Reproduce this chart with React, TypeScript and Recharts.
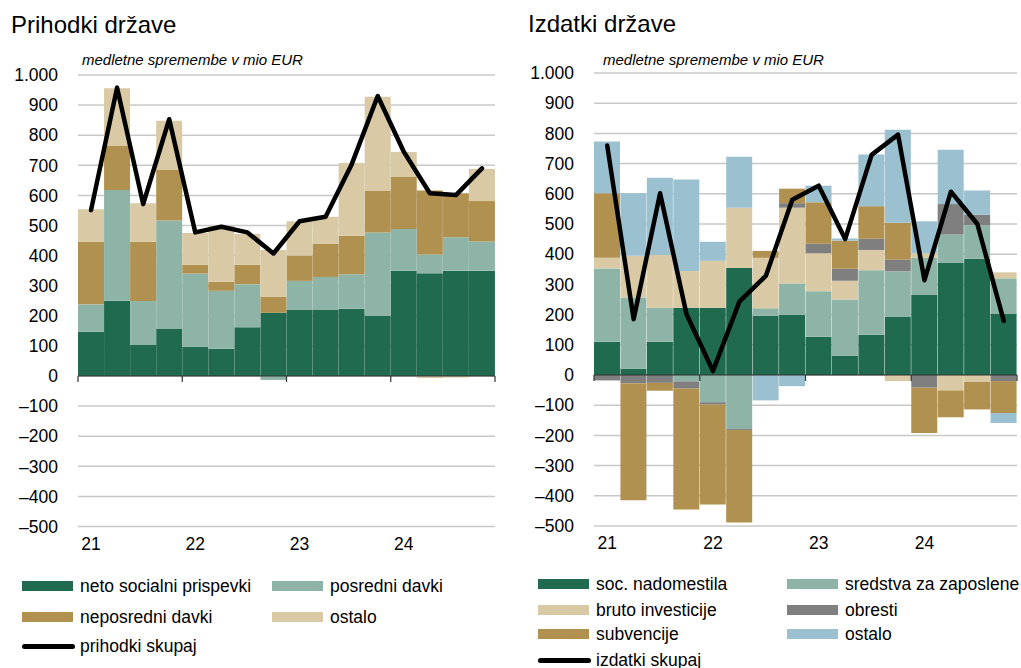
import React from 'react';
import { ComposedChart, Bar, Line, XAxis, YAxis, CartesianGrid, ReferenceLine } from 'recharts';

const quarters = ['21Q1','21Q2','21Q3','21Q4','22Q1','22Q2','22Q3','22Q4','23Q1','23Q2','23Q3','23Q4','24Q1','24Q2','24Q3','24Q4'];
const yearTickQuarters = ['21Q1','22Q1','23Q1','24Q1'];
const yearLabels = ['21','22','23','24'];
const yTicks = [-500,-400,-300,-200,-100,0,100,200,300,400,500,600,700,800,900,1000];

// Prihodki države
const netoSocialniPrispevki = [147,250,103,158,97,91,162,210,221,221,223,199,350,341,350,350];
const posredniDavki = [91,368,146,359,243,192,143,-13,95,108,115,278,138,63,111,97];
const neposredniDavki = [208,146,197,167,30,30,65,54,84,111,128,139,175,212,146,134];
const prihodkiOstalo = [108,192,128,164,105,185,102,155,114,89,242,312,81,-7,-5,107];
const prihodkiSkupaj = [551,958,571,853,477,496,477,407,514,529,703,930,745,607,601,690];

// Izdatki države
const socNadomestila = [110,21,110,223,223,354,196,199,127,64,133,194,265,371,385,202];
const sredstvaZaZaposlene = [243,236,113,-21,-90,-179,25,104,150,186,214,149,124,94,111,118];
const brutoInvesticije = [35,138,174,121,155,200,167,251,126,62,67,-20,14,-51,-23,20];
const obresti = [-18,-27,-26,-24,-8,-3,0,15,32,40,37,39,-42,101,35,-20];
const subvencije = [214,-388,-26,-400,-331,-306,23,48,137,93,108,122,-150,-89,-91,-106];
const izdatkiOstalo = [171,207,256,303,63,169,-84,-37,55,7,171,308,106,180,80,-33];
const izdatkiSkupaj = [760,185,602,201,13,243,328,580,627,450,729,796,314,607,500,179];

const C_GREEN = '#206a50';
const C_TEAL = '#8eb4a7';
const C_BROWN = '#b0914f';
const C_BEIGE = '#d9caa5';
const C_GRAY = '#7f7f7f';
const C_BLUE = '#9bc0cf';

const leftSeries = [
  { key: 'neto', name: 'neto socialni prispevki', color: C_GREEN, values: netoSocialniPrispevki },
  { key: 'posredni', name: 'posredni davki', color: C_TEAL, values: posredniDavki },
  { key: 'neposredni', name: 'neposredni davki', color: C_BROWN, values: neposredniDavki },
  { key: 'ostalo', name: 'ostalo', color: C_BEIGE, values: prihodkiOstalo },
];
const rightSeries = [
  { key: 'soc', name: 'soc. nadomestila', color: C_GREEN, values: socNadomestila },
  { key: 'sredstva', name: 'sredstva za zaposlene', color: C_TEAL, values: sredstvaZaZaposlene },
  { key: 'bruto', name: 'bruto investicije', color: C_BEIGE, values: brutoInvesticije },
  { key: 'obresti', name: 'obresti', color: C_GRAY, values: obresti },
  { key: 'subv', name: 'subvencije', color: C_BROWN, values: subvencije },
  { key: 'ostalo', name: 'ostalo', color: C_BLUE, values: izdatkiOstalo },
];

const buildData = (series: any[], total: number[]) =>
  quarters.map((q, i) => {
    const row: any = { q, total: total[i] };
    series.forEach((s) => { row[s.key] = s.values[i]; });
    return row;
  });

const leftData = buildData(leftSeries, prihodkiSkupaj);
const rightData = buildData(rightSeries, izdatkiSkupaj);

const fmtY = (v: number) => {
  if (v < 0) return '\u2013' + Math.abs(v);
  if (v >= 1000) return '1.' + String(v).slice(-3);
  return String(v);
};
const fmtX = (v: string) => {
  const idx = yearTickQuarters.indexOf(v);
  return idx >= 0 ? yearLabels[idx] : '';
};

const FONT = '"Liberation Sans", Arial, sans-serif';

function Panel({ data, series, yWidth, width, margin }: any) {
  return (
    <ComposedChart width={width} height={668} data={data} margin={margin}
      barCategoryGap={0} barGap={0} stackOffset="sign">
      <CartesianGrid vertical={false} stroke="#c8c8c8" strokeWidth={1.5} />
      <XAxis dataKey="q" interval={0} axisLine={false} tickLine={false} tickSize={0} tickMargin={11}
        height={30} tickFormatter={fmtX} tick={{ fill: '#000', fontSize: 17.5 }} />
      <YAxis domain={[-500, 1000]} ticks={yTicks} interval={0} axisLine={false} tickLine={false}
        tickSize={0} tickMargin={20} width={yWidth} tickFormatter={fmtY}
        tick={{ fill: '#000', fontSize: 17.5 }} />
      {series.map((s: any) => (
        <Bar key={s.key} dataKey={s.key} stackId="s" fill={s.color} isAnimationActive={false} />
      ))}
      <ReferenceLine y={0} stroke="#333" strokeWidth={1.2} />
      {yearTickQuarters.map((q) => (
        <ReferenceLine key={q} segment={[{ x: q, y: 0 }, { x: q, y: -20 }]} position="start"
          stroke="#333" strokeWidth={1.2} ifOverflow="visible" />
      ))}
      <ReferenceLine segment={[{ x: '24Q4', y: 0 }, { x: '24Q4', y: -20 }]} position="end"
        stroke="#333" strokeWidth={1.2} ifOverflow="visible" />
      <Line type="linear" dataKey="total" stroke="#000" strokeWidth={4.5} dot={false}
        strokeLinejoin="round" strokeLinecap="round" isAnimationActive={false} />
    </ComposedChart>
  );
}

function LegendItem({ x, y, color, name, line }: any) {
  return (
    <div style={{ position: 'absolute', left: x, top: y - 12, height: 24, display: 'flex', alignItems: 'center', whiteSpace: 'nowrap' }}>
      {line ? (
        <div style={{ width: 53, height: 5, background: '#000', borderRadius: 3, marginRight: 5 }} />
      ) : (
        <div style={{ width: 51, height: 10, background: color, marginRight: 7 }} />
      )}
      <span style={{ fontSize: 17.5, color: '#000' }}>{name}</span>
    </div>
  );
}

export default function App() {
  const leftCols = [22, 272];
  const leftRows = [586, 617];
  const rightCols = [538, 787];
  const rightRows = [584, 610, 634];
  return (
    <div style={{ position: 'absolute', left: 0, top: 0, width: 1021, height: 668, background: '#fff', fontFamily: FONT, overflow: 'hidden' }}>
      <div style={{ position: 'absolute', left: 11, top: 13, fontSize: 24, lineHeight: '24px', whiteSpace: 'nowrap' }}>Prihodki države</div>
      <div style={{ position: 'absolute', left: 82, top: 52, fontSize: 15, lineHeight: '15px', fontStyle: 'italic', whiteSpace: 'nowrap' }}>medletne spremembe v mio EUR</div>
      <div style={{ position: 'absolute', left: 528, top: 12, fontSize: 24, lineHeight: '24px', whiteSpace: 'nowrap' }}>Izdatki države</div>
      <div style={{ position: 'absolute', left: 603, top: 52, fontSize: 15, lineHeight: '15px', fontStyle: 'italic', whiteSpace: 'nowrap' }}>medletne spremembe v mio EUR</div>

      <div style={{ position: 'absolute', left: 0, top: 0 }}>
        <Panel data={leftData} series={leftSeries} yWidth={78} width={510}
          margin={{ top: 75, right: 15, bottom: 111.5, left: 0 }} />
      </div>
      <div style={{ position: 'absolute', left: 510, top: 0 }}>
        <Panel data={rightData} series={rightSeries} yWidth={84} width={511}
          margin={{ top: 73, right: 4, bottom: 112, left: 0 }} />
      </div>

      {leftSeries.map((s, i) => (
        <LegendItem key={s.key} x={leftCols[i % 2]} y={leftRows[Math.floor(i / 2)]} color={s.color} name={s.name} />
      ))}
      <LegendItem x={22} y={646} line name="prihodki skupaj" />

      {rightSeries.map((s, i) => (
        <LegendItem key={s.key} x={rightCols[i % 2]} y={rightRows[Math.floor(i / 2)]} color={s.color} name={s.name} />
      ))}
      <LegendItem x={538} y={660} line name="izdatki skupaj" />
    </div>
  );
}
